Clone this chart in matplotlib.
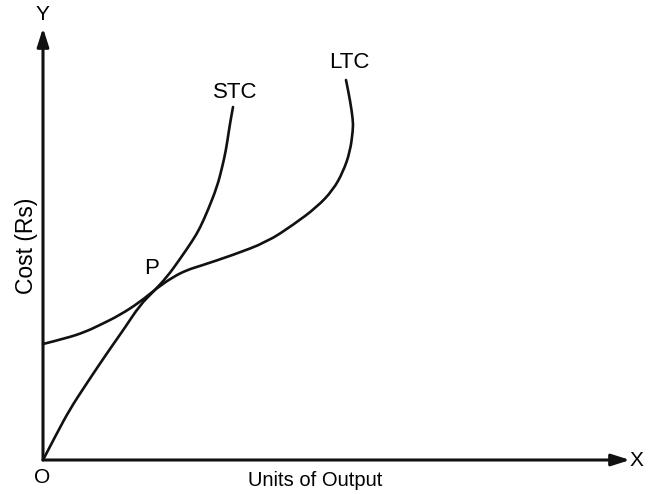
import matplotlib
matplotlib.use('Agg')
import matplotlib.pyplot as plt
from matplotlib.path import Path
from matplotlib.patches import PathPatch

plt.rcParams['font.family'] = ['Liberation Sans', 'DejaVu Sans']

# curve points, measured from the origin O (x to the right, y up)
stc_x = [0, 14, 27, 42, 56, 69, 81, 97, 110, 124, 137, 150, 157, 165, 174, 179, 183, 186, 188, 190]
stc_y = [0, 27, 51, 74, 95, 114, 131, 155, 168, 183, 201, 220, 232, 250, 273, 292, 310, 330, 342, 353]
ltc_x = [0, 24, 42, 57, 77, 97, 114, 130, 144, 157, 190, 224, 250, 274, 290, 300, 307, 310, 310, 307, 303]
ltc_y = [116, 122, 128, 135, 145, 158, 172, 183, 190, 194, 205, 218, 235, 253, 270, 288, 308, 330, 340, 360, 380]

curve_labels = ['STC', 'LTC']
axis_labels = ['Units of Output', 'Cost (Rs)']


def smooth(xs, ys):
    # quadratic bezier through the midpoints, read points act as controls
    verts = [(xs[0], ys[0])]
    codes = [Path.MOVETO]
    for i in range(1, len(xs) - 1):
        verts += [(xs[i], ys[i]), ((xs[i] + xs[i + 1]) / 2, (ys[i] + ys[i + 1]) / 2)]
        codes += [Path.CURVE3, Path.CURVE3]
    verts.append((xs[-1], ys[-1]))
    codes.append(Path.LINETO)
    return Path(verts, codes)


fig = plt.figure(figsize=(6.61, 4.94), dpi=100)
ax = fig.add_axes([0, 0, 1, 1])
ax.set_xlim(-43, 618)
ax.set_ylim(-34, 460)
ax.axis('off')

# axes with arrows
ax.annotate('', xy=(587, 0), xytext=(0, 0),
            arrowprops=dict(arrowstyle='-|>,head_length=1.1,head_width=0.35', color='#111111', lw=2.2, shrinkA=0, shrinkB=0))
ax.annotate('', xy=(0, 432), xytext=(0, 0),
            arrowprops=dict(arrowstyle='-|>,head_length=1.1,head_width=0.35', color='#111111', lw=2.2, shrinkA=0, shrinkB=0))

for xs, ys in [(stc_x, stc_y), (ltc_x, ltc_y)]:
    ax.add_patch(PathPatch(smooth(xs, ys), fill=False, edgecolor='#111111', lw=1.9, capstyle='round'))

fs = 15
ax.text(192, 368, curve_labels[0], fontsize=16, ha='center', va='center')
ax.text(306, 397, curve_labels[1], fontsize=16, ha='center', va='center')
ax.text(109, 192, 'P', fontsize=16, ha='center', va='center')
ax.text(-1, 445, 'Y', fontsize=fs, ha='center', va='center')
ax.text(593, 0, 'X', fontsize=fs, ha='center', va='center')
ax.text(-1, -17, 'O', fontsize=fs, ha='center', va='center')
ax.text(272, -20, axis_labels[0], fontsize=14.5, ha='center', va='center')
ax.text(-16, 214, axis_labels[1], fontsize=16.5, ha='center', va='center', rotation=90)

fig.savefig('out.png', dpi=100)
